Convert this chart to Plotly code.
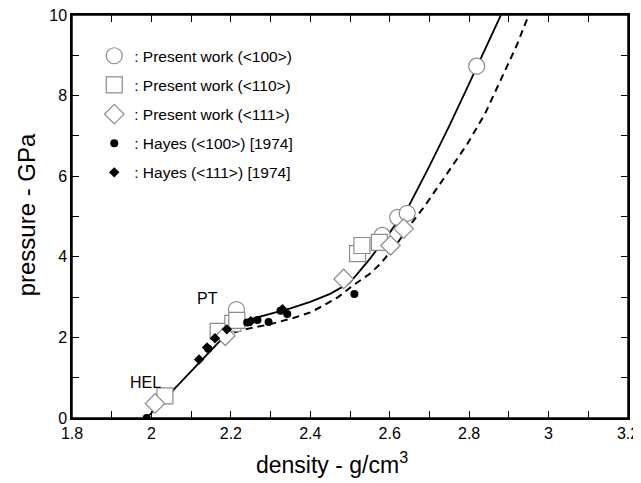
import plotly.graph_objects as go

# ---- data ----
fit_solid_x = [1.988, 2.10, 2.18, 2.21, 2.23, 2.26, 2.30, 2.35, 2.40, 2.45, 2.50, 2.55, 2.60, 2.65, 2.70, 2.75, 2.80, 2.85, 2.88]
fit_solid_y = [0.0, 1.17, 2.00, 2.30, 2.40, 2.48, 2.58, 2.72, 2.88, 3.08, 3.36, 3.95, 4.60, 5.30, 6.25, 7.25, 8.30, 9.35, 10.0]

fit_dash_x = [2.18, 2.22, 2.25, 2.30, 2.357, 2.40, 2.433, 2.47, 2.509, 2.55, 2.577, 2.62, 2.66, 2.686, 2.74, 2.796, 2.84, 2.88, 2.92, 2.95]
fit_dash_y = [2.02, 2.16, 2.23, 2.33, 2.48, 2.62, 2.79, 3.00, 3.30, 3.58, 3.83, 4.35, 4.90, 5.23, 6.00, 6.81, 7.55, 8.38, 9.25, 10.0]

pw100_x = [2.214, 2.581, 2.620, 2.644, 2.819]
pw100_y = [2.69, 4.53, 4.98, 5.08, 8.73]

pw110_x = [2.034, 2.168, 2.205, 2.215, 2.519, 2.530, 2.574]
pw110_y = [0.55, 2.15, 2.35, 2.42, 4.08, 4.28, 4.36]

pw111_x = [2.009, 2.186, 2.484, 2.602, 2.635]
pw111_y = [0.36, 2.04, 3.45, 4.28, 4.70]

hayes100_x = [1.988, 2.143, 2.241, 2.267, 2.295, 2.325, 2.342, 2.511]
hayes100_y = [0.00, 1.72, 2.37, 2.43, 2.38, 2.66, 2.58, 3.08]

hayes111_x = [2.120, 2.140, 2.160, 2.190, 2.250, 2.330]
hayes111_y = [1.45, 1.75, 1.98, 2.20, 2.40, 2.70]

x_tickvals = [1.8, 2.0, 2.2, 2.4, 2.6, 2.8, 3.0, 3.2]
x_ticktext = ["1.8", "2", "2.2", "2.4", "2.6", "2.8", "3", "3.2"]
x_minorvals = [1.9, 2.1, 2.3, 2.5, 2.7, 2.9, 3.1]
y_tickvals = [0, 2, 4, 6, 8, 10]
y_ticktext = ["0", "2", "4", "6", "8", "10"]
y_minorvals = [1, 3, 5, 7, 9]

labels = [": Present work (<100>)", ": Present work (<110>)", ": Present work (<111>)",
          ": Hayes (<100>) [1974]", ": Hayes (<111>) [1974]"]

FONT = "Liberation Sans, Arial, Helvetica, sans-serif"
GRAY = "#8c8c8c"

fig = go.Figure()
fig.add_trace(go.Scatter(x=fit_solid_x, y=fit_solid_y, mode="lines",
                         line=dict(color="black", width=1.8), showlegend=False))
fig.add_trace(go.Scatter(x=fit_dash_x, y=fit_dash_y, mode="lines",
                         line=dict(color="black", width=2, dash="7px,5px"), showlegend=False))

open_style = dict(color="white", line=dict(color=GRAY, width=1.2))
fig.add_trace(go.Scatter(x=pw100_x, y=pw100_y, mode="markers", name=labels[0], legendgroup="a",
                         marker=dict(symbol="circle", size=16, **open_style)))
fig.add_trace(go.Scatter(x=pw110_x, y=pw110_y, mode="markers", name=labels[1], legendgroup="b",
                         marker=dict(symbol="square", size=16, **open_style)))
fig.add_trace(go.Scatter(x=pw111_x, y=pw111_y, mode="markers", name=labels[2], legendgroup="c",
                         marker=dict(symbol="diamond", size=15, **open_style)))
fig.add_trace(go.Scatter(x=hayes100_x, y=hayes100_y, mode="markers", name=labels[3], legendgroup="d",
                         marker=dict(symbol="circle", size=8, color="black")))
fig.add_trace(go.Scatter(x=hayes111_x, y=hayes111_y, mode="markers", name=labels[4], legendgroup="e",
                         marker=dict(symbol="diamond", size=8, color="black")))

fig.add_annotation(x=2.140, y=2.97, text="PT", showarrow=False,
                   font=dict(family=FONT, size=16, color="black"))
fig.add_annotation(x=1.984, y=0.89, text="HEL", showarrow=False,
                   font=dict(family=FONT, size=16, color="black"))

# axis titles
fig.add_annotation(xref="paper", yref="paper", x=0.4675, y=-0.1125, xanchor="center", yanchor="middle",
                   text="density - g/cm<sup>3</sup>", showarrow=False,
                   font=dict(family=FONT, size=23, color="black"))
fig.add_annotation(xref="paper", yref="paper", x=-0.0826, y=0.503, xanchor="center", yanchor="middle",
                   text="pressure - GPa", textangle=-90, showarrow=False,
                   font=dict(family=FONT, size=24, color="black"))

# plot frame
fig.add_shape(type="rect", xref="paper", yref="paper", x0=0, y0=0, x1=1, y1=1,
              line=dict(color="black", width=1.5), fillcolor="rgba(0,0,0,0)", layer="above")

axis_common = dict(showline=True, linecolor="black", linewidth=1.5, mirror="allticks",
                   ticks="inside", ticklen=7, tickwidth=1, tickcolor="black",
                   showgrid=False, zeroline=False, automargin=False,
                   ticklabeloverflow="allow",
                   tickfont=dict(family=FONT, size=16, color="black"))

fig.update_xaxes(range=[1.8, 3.2], tickvals=x_tickvals, ticktext=x_ticktext,
                 minor=dict(tickvals=x_minorvals, ticks="inside", ticklen=7, tickwidth=1,
                            tickcolor="black", showgrid=False),
                 **axis_common)
fig.update_yaxes(range=[0, 10], tickvals=y_tickvals, ticktext=y_ticktext,
                 minor=dict(tickvals=y_minorvals, ticks="inside", ticklen=7, tickwidth=1,
                            tickcolor="black", showgrid=False),
                 **axis_common)

# the page puts the figure 8px in from the top-left corner; margins compensate for that
fig.update_layout(
    width=641, height=483,
    margin=dict(l=64, r=21, t=7, b=73),
    paper_bgcolor="white", plot_bgcolor="white",
    font=dict(family=FONT, color="black"),
    legend=dict(x=0.040, y=0.94, xanchor="left", yanchor="top",
                bgcolor="rgba(0,0,0,0)", borderwidth=0,
                font=dict(family=FONT, size=15.5, color="black"),
                traceorder="grouped", tracegroupgap=6, itemwidth=30),
)

fig.write_html("out.html")
